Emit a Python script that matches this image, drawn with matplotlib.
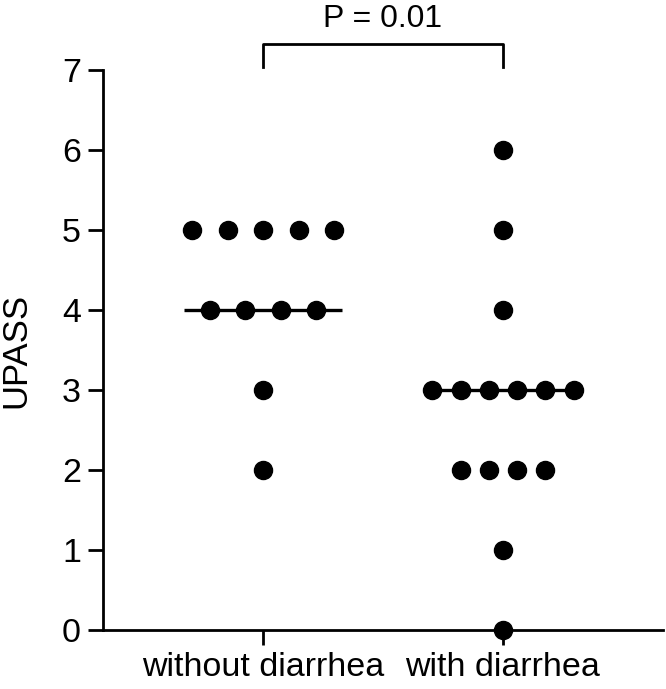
import numpy as np
import matplotlib
matplotlib.use("Agg")
import matplotlib.pyplot as plt

plt.rcParams["font.family"] = ["Liberation Sans", "DejaVu Sans"]

groups = ["without diarrhea", "with diarrhea"]
without_diarrhea = [5, 5, 5, 5, 5, 4, 4, 4, 4, 3, 2]
with_diarrhea = [6, 5, 4, 3, 3, 3, 3, 3, 3, 2, 2, 2, 2, 1, 0]
p_text = "P = 0.01"

# horizontal spacing between points in one row (GraphPad style scatter)
spacing = [0.148, 0.118]

fig = plt.figure(figsize=(6.66, 6.89), dpi=100)
ax = fig.add_axes([0.1547, 0.0856, 0.8408, 0.8128])

for i, vals in enumerate([without_diarrhea, with_diarrhea]):
    vals = np.array(vals)
    xc = i + 1
    for v in np.unique(vals):
        n = np.sum(vals == v)
        offs = (np.arange(n) - (n - 1) / 2) * spacing[i]
        ax.plot(xc + offs, [v] * n, "o", color="black", markersize=13,
                clip_on=False, zorder=3)
    med = np.median(vals)
    ax.plot([xc - 0.33, xc + 0.33], [med, med], color="black", lw=2.4,
            solid_capstyle="butt", zorder=2, clip_on=False)

ax.set_xlim(0.333, 2.667)
ax.set_ylim(0, 7)
ax.set_yticks(range(8))
ax.set_xticks([1, 2])
ax.set_xticklabels(groups)
ax.set_ylabel("UPASS", fontsize=25, va="center")
ax.yaxis.set_label_coords(-0.155, 0.5)

for s in ["top", "right"]:
    ax.spines[s].set_visible(False)
for s in ["left", "bottom"]:
    ax.spines[s].set_linewidth(2.0)
ax.tick_params(axis="both", direction="out", length=11, width=2.0,
               labelsize=24.5, pad=5)

# significance bracket
ax.plot([1, 1, 2, 2], [7.04, 7.325, 7.325, 7.04], color="black", lw=2.0,
        clip_on=False)
ax.text(1.5, 7.54, p_text, ha="center", va="baseline", fontsize=23)

fig.savefig("out.png", dpi=100)
